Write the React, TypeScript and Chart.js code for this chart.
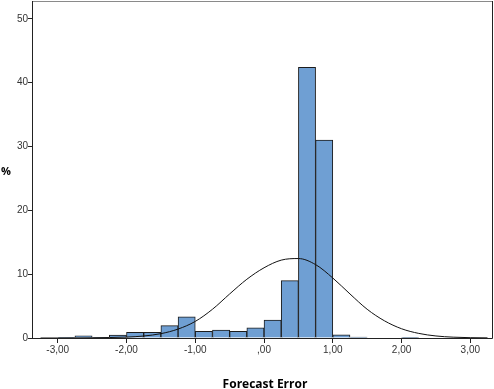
import React, { useEffect, useRef } from "react";
import { Chart, registerables } from "chart.js";

Chart.register(...registerables);

// Histogram bins (width 0.25), centers and percent values
const BIN_CENTERS = [
  -2.875, -2.625, -2.375, -2.125, -1.875, -1.625, -1.375, -1.125, -0.875, -0.625,
  -0.375, -0.125, 0.125, 0.375, 0.625, 0.875, 1.125, 1.375, 1.625, 1.875, 2.125,
];
const PERCENT = [
  0.1, 0.35, 0.1, 0.45, 0.9, 0.9, 1.93, 3.3, 1.05, 1.25,
  1.05, 1.6, 2.8, 9.0, 42.4, 31.0, 0.5, 0.15, null, null, 0.05,
];

// Normal curve points
const CURVE_X = [
  -3.25, -3.0, -2.75, -2.5, -2.25, -2.0, -1.75, -1.5, -1.25, -1.0, -0.75, -0.5, -0.25,
  0.0, 0.25, 0.5, 0.75, 1.0, 1.25, 1.5, 1.75, 2.0, 2.25, 2.5, 2.75, 3.0, 3.25,
];
const CURVE_Y = [
  0.0, 0.0, 0.01, 0.03, 0.07, 0.14, 0.31, 0.68, 1.4, 2.6, 4.5, 6.9, 9.2,
  11.0, 12.2, 12.45, 11.5, 9.4, 6.9, 4.5, 2.7, 1.45, 0.72, 0.32, 0.13, 0.05, 0.02,
];

const X_TICKS = [-3, -2, -1, 0, 1, 2, 3];
const X_TICK_LABELS = ["-3,00", "-2,00", "-1,00", ",00", "1,00", "2,00", "3,00"];
const Y_TICKS = [0, 10, 20, 30, 40, 50];

const X_TITLE = "Forecast Error";
const Y_TITLE = "%";

const framePlugin = {
  id: "frame",
  afterDraw(chart: any) {
    const { ctx, chartArea } = chart;
    const { left, top, right, bottom } = chartArea;
    ctx.save();
    ctx.lineWidth = 1;
    // top (gray)
    ctx.strokeStyle = "#8a8a8a";
    ctx.beginPath();
    ctx.moveTo(left, top + 0.5);
    ctx.lineTo(right, top + 0.5);
    ctx.stroke();
    // left, bottom, right
    ctx.strokeStyle = "#222";
    ctx.beginPath();
    ctx.moveTo(left - 0.5, top);
    ctx.lineTo(left - 0.5, bottom + 0.5);
    ctx.lineTo(right - 0.5, bottom + 0.5);
    ctx.lineTo(right - 0.5, top);
    ctx.stroke();
    // titles
    ctx.fillStyle = "#000";
    ctx.font = "bold 11px 'Open Sans'";
    ctx.textAlign = "left";
    ctx.textBaseline = "middle";
    ctx.fillText(Y_TITLE, 1, 172);
    ctx.font = "bold 12px 'Open Sans'";
    ctx.textAlign = "center";
    ctx.textBaseline = "alphabetic";
    ctx.fillText(X_TITLE, 265, 388);
    ctx.restore();
  },
};

export default function App() {
  const ref = useRef<HTMLCanvasElement | null>(null);

  useEffect(() => {
    if (!ref.current) return;
    const chart = new Chart(ref.current, {
      type: "bar",
      data: {
        datasets: [
          {
            type: "line",
            data: CURVE_X.map((x, i) => ({ x, y: CURVE_Y[i] })),
            borderColor: "#111",
            borderWidth: 1,
            pointRadius: 0,
            tension: 0.4,
            cubicInterpolationMode: "monotone",
            order: 0,
          } as any,
          {
            type: "bar",
            data: BIN_CENTERS.map((x, i) => ({ x, y: PERCENT[i] })),
            backgroundColor: "#6f9fd3",
            borderColor: "#1c1c1c",
            borderWidth: 1,
            borderSkipped: "bottom",
            barPercentage: 1,
            categoryPercentage: 1,
            grouped: false,
            order: 1,
          } as any,
        ],
      },
      options: {
        animation: false,
        responsive: false,
        layout: { padding: { top: 1, right: 1, left: 0, bottom: 0 } },
        plugins: { legend: { display: false }, tooltip: { enabled: false } },
        scales: {
          x: {
            type: "linear",
            min: -3.36,
            max: 3.33,
            offset: false,
            border: { display: false },
            grid: { offset: false, drawOnChartArea: false, drawTicks: true, tickLength: 5, tickColor: "#222" },
            afterBuildTicks: (s: any) => {
              s.ticks = X_TICKS.map((v) => ({ value: v }));
            },
            afterFit: (s: any) => {
              s.height = 51;
              s.paddingLeft = 0;
              s.paddingRight = 0;
            },
            ticks: {
              autoSkip: false,
              maxRotation: 0,
              padding: 1,
              color: "#333",
              font: { family: "'Liberation Sans', Arial", size: 10 },
              callback: (v: any) => X_TICK_LABELS[X_TICKS.indexOf(Number(v))] ?? "",
            },
          },
          y: {
            type: "linear",
            min: 0,
            max: 52.8,
            border: { display: false },
            grid: { drawOnChartArea: false, drawTicks: true, tickLength: 5, tickColor: "#222" },
            afterBuildTicks: (s: any) => {
              s.ticks = Y_TICKS.map((v) => ({ value: v }));
            },
            afterFit: (s: any) => {
              s.width = 33;
              s.paddingTop = 0;
              s.paddingBottom = 0;
            },
            ticks: {
              padding: 0,
              color: "#333",
              font: { family: "'Liberation Sans', Arial", size: 10 },
              callback: (v: any) => String(v),
            },
          },
        },
      },
      plugins: [framePlugin],
    });
    return () => chart.destroy();
  }, []);

  return (
    <div style={{ position: "absolute", left: 0, top: 0, width: 494, height: 389, background: "#fff" }}>
      <canvas ref={ref} width={494} height={389} />
    </div>
  );
}
